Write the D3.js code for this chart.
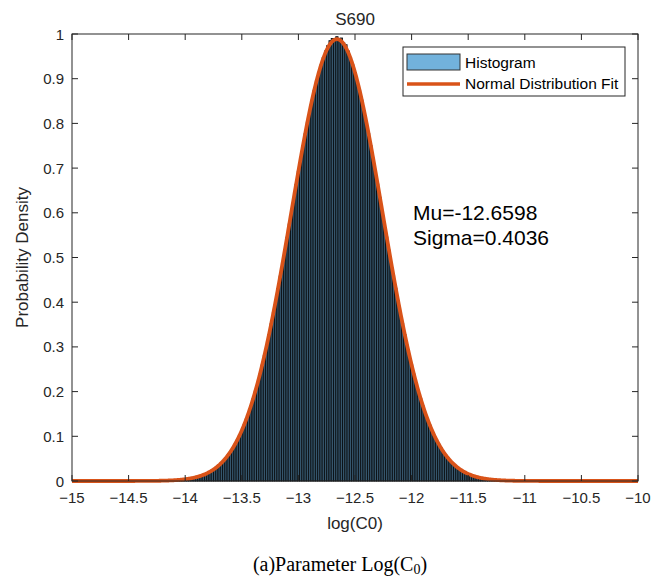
<!DOCTYPE html>
<html>
<head>
<meta charset="utf-8">
<script src="https://cdn.jsdelivr.net/npm/d3@7"></script>
<style>
  html, body { margin: 0; padding: 0; background: #fff; }
  svg { display: block; }
  text { font-family: "Liberation Sans", Arial, sans-serif; fill: #262626; }
</style>
</head>
<body>
<script>
// ---------- data ----------
const title = "S690";
const xLabel = "log(C0)";
const yLabel = "Probability Density";
const mu = -12.6598;
const sigma = 0.4036;
const xTicks = [-15, -14.5, -14, -13.5, -13, -12.5, -12, -11.5, -11, -10.5, -10];
const yTicks = [0, 0.1, 0.2, 0.3, 0.4, 0.5, 0.6, 0.7, 0.8, 0.9, 1];
const binStart = -14.21;   // left edge of first bin
const binWidth = 0.02;
const histValues = [
  0.0007, 0.0008, 0.0010, 0.0012, 0.0014, 0.0017, 0.0020, 0.0024, 0.0029, 0.0034,
  0.0040, 0.0047, 0.0055, 0.0065, 0.0076, 0.0088, 0.0102, 0.0119, 0.0137, 0.0159,
  0.0183, 0.0210, 0.0241, 0.0275, 0.0314, 0.0357, 0.0405, 0.0459, 0.0518, 0.0583,
  0.0656, 0.0735, 0.0822, 0.0917, 0.1020, 0.1132, 0.1254, 0.1385, 0.1526, 0.1677,
  0.1839, 0.2011, 0.2195, 0.2389, 0.2594, 0.2809, 0.3035, 0.3272, 0.3518, 0.3773,
  0.4036, 0.4308, 0.4586, 0.4871, 0.5160, 0.5453, 0.5749, 0.6046, 0.6343, 0.6637,
  0.6929, 0.7216, 0.7496, 0.7768, 0.8030, 0.8281, 0.8518, 0.8741, 0.8947, 0.9136,
  0.9306, 0.9470, 0.9620, 0.9740, 0.9850, 0.9900, 0.9850, 0.9940, 0.9830, 0.9910,
  0.9800, 0.9760, 0.9620, 0.9470, 0.9309, 0.9140, 0.8951, 0.8745, 0.8523, 0.8286,
  0.8035, 0.7773, 0.7502, 0.7221, 0.6935, 0.6643, 0.6349, 0.6052, 0.5755, 0.5459,
  0.5166, 0.4877, 0.4592, 0.4314, 0.4041, 0.3778, 0.3523, 0.3277, 0.3040, 0.2814,
  0.2598, 0.2393, 0.2199, 0.2014, 0.1842, 0.1680, 0.1529, 0.1388, 0.1256, 0.1134,
  0.1022, 0.0919, 0.0824, 0.0737, 0.0657, 0.0585, 0.0519, 0.0460, 0.0406, 0.0358,
  0.0315, 0.0276, 0.0241, 0.0211, 0.0184, 0.0159, 0.0138, 0.0119, 0.0103, 0.0088,
  0.0076, 0.0065, 0.0055, 0.0047, 0.0040, 0.0034, 0.0029, 0.0024, 0.0020, 0.0017,
  0.0014, 0.0012, 0.0010, 0.0008, 0.0007, 0.0006, 0.0005
];
const legendItems = ["Histogram", "Normal Distribution Fit"];
const statLines = ["Mu=-12.6598", "Sigma=0.4036"];

// ---------- layout ----------
const W = 669, H = 581;
const L = 72, R = 638, T = 34, B = 481;
const svg = d3.select("body").append("svg").attr("width", W).attr("height", H);

const x = d3.scaleLinear().domain([-15, -10]).range([L, R]);
const y = d3.scaleLinear().domain([0, 1]).range([B, T]);

// histogram
const bins = histValues.map((v, i) => ({x0: binStart + i * binWidth, x1: binStart + (i + 1) * binWidth, v}));
svg.append("g").selectAll("rect").data(bins).join("rect")
  .attr("x", d => x(d.x0))
  .attr("width", d => x(d.x1) - x(d.x0))
  .attr("y", d => y(d.v))
  .attr("height", d => y(0) - y(d.v))
  .attr("fill", "#35566d")
  .attr("stroke", "#0b1014")
  .attr("stroke-width", 0.9);

// normal fit
const pdf = t => Math.exp(-0.5 * ((t - mu) / sigma) ** 2) / (sigma * Math.sqrt(2 * Math.PI));
const fitPts = d3.range(-15, -9.9995, 0.005).map(t => [t, pdf(t)]);
svg.append("path")
  .datum(fitPts)
  .attr("d", d3.line().x(d => x(d[0])).y(d => y(d[1])))
  .attr("fill", "none")
  .attr("stroke", "#D95319")
  .attr("stroke-width", 3.8);

// axes box
const axisColor = "#262626";
const gAx = svg.append("g");
gAx.append("rect").attr("x", L).attr("y", T).attr("width", R - L).attr("height", B - T)
  .attr("fill", "none").attr("stroke", axisColor).attr("stroke-width", 1);

const tickLen = 6;
xTicks.forEach(t => {
  const px = x(t);
  gAx.append("line").attr("x1", px).attr("x2", px).attr("y1", B).attr("y2", B - tickLen).attr("stroke", axisColor);
  gAx.append("line").attr("x1", px).attr("x2", px).attr("y1", T).attr("y2", T + tickLen).attr("stroke", axisColor);
  gAx.append("text").attr("x", px).attr("y", B + 22).attr("text-anchor", "middle")
    .style("font-size", "15px").text(d3.format("")(t));
});
yTicks.forEach(t => {
  const py = y(t);
  gAx.append("line").attr("x1", L).attr("x2", L + tickLen).attr("y1", py).attr("y2", py).attr("stroke", axisColor);
  gAx.append("line").attr("x1", R).attr("x2", R - tickLen).attr("y1", py).attr("y2", py).attr("stroke", axisColor);
  gAx.append("text").attr("x", L - 8).attr("y", py + 5.5).attr("text-anchor", "end")
    .style("font-size", "15px").text(d3.format("")(t));
});

// title and labels
svg.append("text").attr("x", (L + R) / 2).attr("y", 25).attr("text-anchor", "middle")
  .style("font-size", "17px").text(title);
svg.append("text").attr("x", (L + R) / 2).attr("y", 529).attr("text-anchor", "middle")
  .style("font-size", "17px").text(xLabel);
svg.append("text").attr("transform", `translate(28,${(T + B) / 2}) rotate(-90)`).attr("text-anchor", "middle")
  .style("font-size", "17px").text(yLabel);

// stats text
statLines.forEach((s, i) => {
  svg.append("text").attr("x", 413).attr("y", 220 + i * 25)
    .style("font-size", "21px").style("fill", "#000").text(s);
});

// legend
const lg = svg.append("g");
lg.append("rect").attr("x", 403).attr("y", 47).attr("width", 222).attr("height", 49)
  .attr("fill", "#fff").attr("stroke", axisColor).attr("stroke-width", 1);
lg.append("rect").attr("x", 407).attr("y", 54).attr("width", 53).attr("height", 16)
  .attr("fill", "#72b2dc").attr("stroke", "#333").attr("stroke-width", 1);
lg.append("text").attr("x", 465).attr("y", 68).style("font-size", "15.5px").style("fill", "#000").text(legendItems[0]);
lg.append("line").attr("x1", 407).attr("x2", 460).attr("y1", 84).attr("y2", 84)
  .attr("stroke", "#D95319").attr("stroke-width", 3.5);
lg.append("text").attr("x", 465).attr("y", 89).style("font-size", "15.5px").style("fill", "#000").text(legendItems[1]);

// caption
const cap = svg.append("text").attr("x", 340).attr("y", 571).attr("text-anchor", "middle")
  .style("font-family", "'Liberation Serif', 'Times New Roman', serif").style("font-size", "20px").style("fill", "#000");
cap.append("tspan").text("(a)Parameter Log(C");
cap.append("tspan").attr("dy", 3).style("font-size", "14px").text("0");
cap.append("tspan").attr("dy", -3).text(")");
</script>
</body>
</html>
